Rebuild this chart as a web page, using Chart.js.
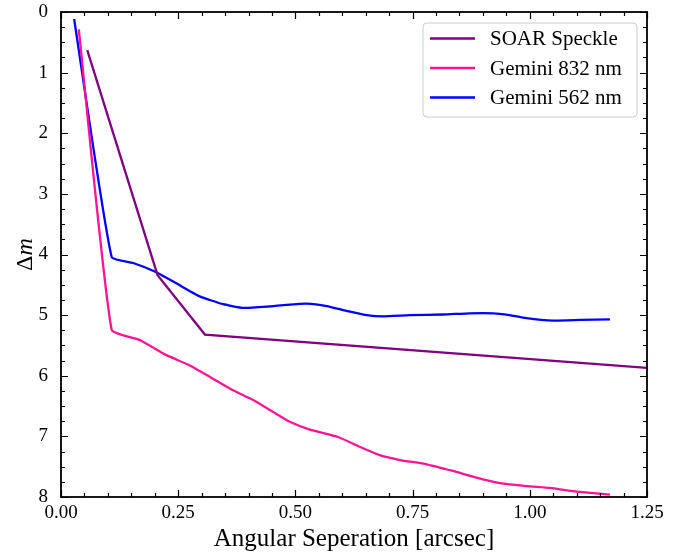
<!DOCTYPE html>
<html>
<head>
<meta charset="utf-8">
<script src="https://cdn.jsdelivr.net/npm/chart.js@4"></script>
<style>
  body { margin: 0; background: #fff; }
</style>
</head>
<body>
<canvas id="c" width="685" height="554"></canvas>
<script>
// SOAR speckle contrast curve
const soarX = [0.056, 0.206, 0.307, 1.25];
const soarY = [0.63, 4.34, 5.32, 5.87];

// Gemini 832 nm
const g832X = [0.038, 0.108, 0.168, 0.225, 0.275, 0.318, 0.367, 0.410, 0.453, 0.488, 0.531,
               0.591, 0.637, 0.680, 0.723, 0.780, 0.836, 0.886, 0.936, 0.993, 1.043, 1.100, 1.171];
const g832Y = [0.285, 5.24, 5.41, 5.66, 5.83, 6.02, 6.24, 6.40, 6.60, 6.76, 6.89,
               7.01, 7.17, 7.31, 7.39, 7.46, 7.57, 7.68, 7.77, 7.82, 7.85, 7.91, 7.96];

// Gemini 562 nm
const g562X = [0.028, 0.108, 0.154, 0.200, 0.247, 0.296, 0.346, 0.389, 0.439, 0.481, 0.524,
               0.567, 0.609, 0.652, 0.687, 0.744, 0.815, 0.872, 0.922, 0.950, 0.993, 1.050, 1.107, 1.171];
const g562Y = [0.115, 4.04, 4.14, 4.28, 4.48, 4.69, 4.82, 4.88, 4.86, 4.83, 4.81,
               4.85, 4.93, 5.00, 5.02, 5.00, 4.99, 4.97, 4.97, 4.99, 5.05, 5.09, 5.08, 5.07];

const xTicks = [0, 0.25, 0.5, 0.75, 1.0, 1.25];
const yTicks = [0, 1, 2, 3, 4, 5, 6, 7, 8];

const FONT = '"Liberation Serif", "DejaVu Serif", serif';

function pts(xs, ys) {
    return xs.map((x, i) => ({ x: x, y: ys[i] }));
}

// frame, inward ticks on all sides, legend and y title
const decor = {
    id: 'decor',
    afterDraw(chart) {
        const ctx = chart.ctx;
        const a = chart.chartArea;
        const xs = chart.scales.x, ys = chart.scales.y;
        ctx.save();
        ctx.strokeStyle = '#000';
        ctx.lineWidth = 1.2;
        ctx.beginPath();
        for (let v = 0; v <= 1.2501; v += 0.05) {
            const p = Math.round(xs.getPixelForValue(v)) + 0.5;
            const major = Math.abs(v / 0.25 - Math.round(v / 0.25)) < 1e-6;
            const L = major ? 7 : 4;
            ctx.moveTo(p, a.bottom); ctx.lineTo(p, a.bottom - L);
            ctx.moveTo(p, a.top); ctx.lineTo(p, a.top + L);
        }
        for (let v = 0; v <= 8.001; v += 0.25) {
            const p = Math.round(ys.getPixelForValue(v)) + 0.5;
            const major = Math.abs(v - Math.round(v)) < 1e-6;
            const L = major ? 7 : 4;
            ctx.moveTo(a.left, p); ctx.lineTo(a.left + L, p);
            ctx.moveTo(a.right, p); ctx.lineTo(a.right - L, p);
        }
        ctx.stroke();
        ctx.lineWidth = 1.8;
        ctx.strokeRect(a.left, a.top, a.right - a.left, a.bottom - a.top);

        // legend
        const bx = 423, by = 23, bw = 214, bh = 94;
        ctx.beginPath();
        ctx.roundRect(bx, by, bw, bh, 4);
        ctx.fillStyle = 'rgba(255,255,255,0.85)';
        ctx.fill();
        ctx.strokeStyle = '#cccccc';
        ctx.lineWidth = 1;
        ctx.stroke();
        ctx.font = '21px ' + FONT;
        ctx.textBaseline = 'middle';
        ctx.textAlign = 'left';
        chart.data.datasets.forEach((ds, i) => {
            const y = 38.5 + i * 29.5;
            ctx.strokeStyle = ds.borderColor;
            ctx.lineWidth = 2.4;
            ctx.beginPath();
            ctx.moveTo(430, y); ctx.lineTo(475, y);
            ctx.stroke();
            ctx.fillStyle = '#000';
            ctx.fillText(ds.label, 490, y + 1);
        });

        // y title: Δm
        ctx.translate(26, (a.top + a.bottom) / 2);
        ctx.rotate(-Math.PI / 2);
        ctx.fillStyle = '#000';
        ctx.textBaseline = 'middle';
        const f1 = '24px ' + FONT, f2 = 'italic 24px ' + FONT;
        ctx.font = f1;
        const w1 = ctx.measureText('\u0394').width;
        ctx.font = f2;
        const w2 = ctx.measureText('m').width;
        let x0 = -(w1 + w2) / 2;
        ctx.font = f1;
        ctx.fillText('\u0394', x0, 0);
        ctx.font = f2;
        ctx.fillText('m', x0 + w1, 0);
        ctx.restore();
    }
};

new Chart(document.getElementById('c'), {
    type: 'line',
    data: {
        datasets: [
            { label: 'SOAR Speckle', data: pts(soarX, soarY), borderColor: '#800080', tension: 0 },
            { label: 'Gemini 832 nm', data: pts(g832X, g832Y), borderColor: '#ff1493', tension: 0.15 },
            { label: 'Gemini 562 nm', data: pts(g562X, g562Y), borderColor: '#0000ff', tension: 0.15 }
        ]
    },
    options: {
        responsive: false,
        animation: false,
        layout: { padding: { left: 0, top: 12, right: 38, bottom: 0 } },
        elements: {
            point: { radius: 0 },
            line: { borderWidth: 2.3 }
        },
        plugins: {
            legend: { display: false },
            tooltip: { enabled: false }
        },
        scales: {
            x: {
                type: 'linear',
                min: 0, max: 1.25,
                grid: { display: false, drawTicks: false },
                border: { display: false },
                afterBuildTicks: s => { s.ticks = xTicks.map(v => ({ value: v })); },
                afterFit: s => { s.height = 57; s.paddingLeft = 0; s.paddingRight = 0; },
                ticks: {
                    padding: 5,
                    color: '#000',
                    font: { family: FONT, size: 19 },
                    maxRotation: 0,
                    callback: v => Number(v).toFixed(2)
                },
                title: {
                    display: true,
                    text: 'Angular Seperation [arcsec]',
                    color: '#000',
                    font: { family: FONT, size: 25, lineHeight: 1.2 },
                    padding: { top: 0, bottom: 0 }
                }
            },
            y: {
                type: 'linear',
                reverse: true,
                min: 0, max: 8,
                grid: { display: false, drawTicks: false },
                border: { display: false },
                afterBuildTicks: s => { s.ticks = yTicks.map(v => ({ value: v })); },
                afterFit: s => { s.width = 61; s.paddingTop = 0; s.paddingBottom = 0; },
                ticks: {
                    padding: 13,
                    color: '#000',
                    font: { family: FONT, size: 19 }
                }
            }
        }
    },
    plugins: [decor]
});
</script>
</body>
</html>
